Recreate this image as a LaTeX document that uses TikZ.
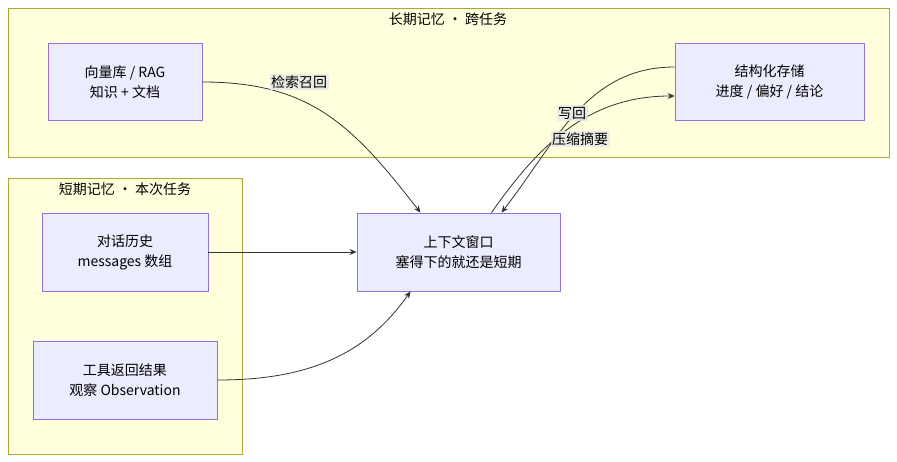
\documentclass[tikz,border=0pt]{standalone}
\usepackage{fontspec}
\setmainfont{Noto Sans CJK SC}
\usetikzlibrary{arrows.meta}
\definecolor{boxfill}{HTML}{ECECFF}
\definecolor{boxline}{HTML}{9370DB}
\definecolor{grpfill}{HTML}{FFFFDE}
\definecolor{grpline}{HTML}{AAAA33}
\definecolor{edgecol}{HTML}{333333}
\definecolor{lblfill}{HTML}{E8E8E8}
\begin{document}
\begin{tikzpicture}[x=1pt, y=-1pt,
    font=\fontsize{14}{20}\selectfont,
    box/.style={draw=boxline, fill=boxfill, line width=0.8pt, align=center, inner sep=0pt},
    group/.style={draw=grpline, fill=grpfill, line width=0.8pt},
    flow/.style={draw=edgecol, line width=0.8pt, -{Stealth[length=7pt,width=6pt]}},
    lbl/.style={fill=lblfill, fill opacity=0.8, text opacity=1, inner sep=1.5pt, align=center}
  ]
  \useasboundingbox (0,0) rectangle (897,462);

  % groups
  \draw[group] (8,8) rectangle (889,157);
  \node (longT) at (448,19) {长期记忆 · 跨任务};
  \draw[group] (8,178) rectangle (242,454);
  \node (shortT) at (125,189) {短期记忆 · 本次任务};

  % nodes
  \node[box, minimum width=154pt, minimum height=77pt] (vec) at (125,82) {向量库 / RAG\\知识 + 文档};
  \node[box, minimum width=189pt, minimum height=77pt] (struct) at (769.5,82) {结构化存储\\进度 / 偏好 / 结论};
  \node[box, minimum width=203pt, minimum height=78pt] (ctx) at (458.5,252) {上下文窗口\\塞得下的就还是短期};
  \node[box, minimum width=166pt, minimum height=78pt] (hist) at (125,252) {对话历史\\messages 数组};
  \node[box, minimum width=184pt, minimum height=78pt] (tool) at (125,380) {工具返回结果\\观察 Observation};

  % connectors
  \draw[flow] (vec.east) to[out=0, in=128, looseness=1.1] ([xshift=-38pt]ctx.north);
  \draw[flow] ([xshift=33pt]ctx.north) to[out=55, in=180] ([yshift=-14pt]struct.west);
  \draw[flow] ([yshift=15pt]struct.west) to[out=180, in=52] ([xshift=43pt]ctx.north);
  \draw[flow] (hist.east) -- (ctx.west);
  \draw[flow] (tool.east) to[out=0, in=235] ([xshift=-48pt]ctx.south);

  % labels
  \node[lbl] (lRecall) at (299,82) {检索召回};
  \node[lbl] (lWrite) at (572,113) {写回};
  \node[lbl] (lSum) at (580,139) {压缩摘要};
\end{tikzpicture}
\end{document}
